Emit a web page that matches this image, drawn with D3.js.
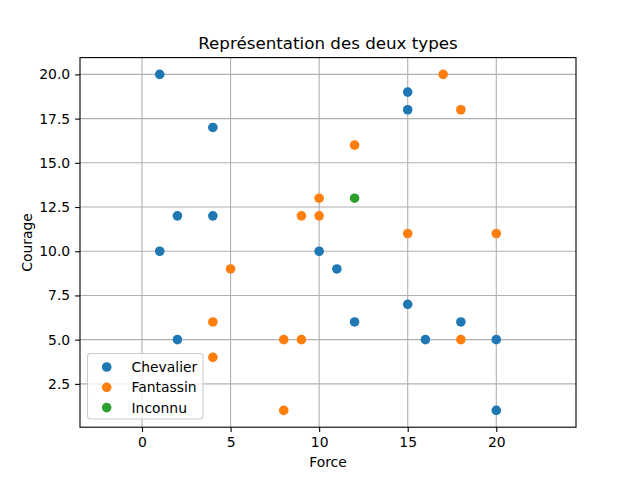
<!DOCTYPE html>
<html>
<head>
<meta charset="utf-8">
<script src="https://cdn.jsdelivr.net/npm/d3@7"></script>
<style>
  body { margin: 0; background: #fff; }
  text { font-family: "DejaVu Sans", sans-serif; fill: #000; }
</style>
</head>
<body>
<svg id="chart"></svg>
<script>
// data
const chevalierForce   = [1, 15, 15, 4, 2, 4, 1, 10, 11, 15, 12, 18, 2, 16, 20, 20];
const chevalierCourage = [20, 19, 18, 17, 12, 12, 10, 10, 9, 7, 6, 6, 5, 5, 5, 1];
const fantassinForce   = [17, 18, 12, 10, 9, 10, 15, 20, 5, 4, 8, 9, 18, 4, 8];
const fantassinCourage = [20, 18, 16, 13, 12, 12, 11, 11, 9, 6, 5, 5, 5, 4, 1];
const inconnuForce   = [12];
const inconnuCourage = [13];
const seriesNames = ["Chevalier", "Fantassin", "Inconnu"];
const xTicks = [0, 5, 10, 15, 20];
const yTicks = [2.5, 5, 7.5, 10, 12.5, 15, 17.5, 20];

const width = 640, height = 480;
const margin = {left: 80, right: 64, top: 57.6, bottom: 52.8};
const colors = ["#1f77b4", "#ff7f0e", "#2ca02c"];
const dot = 4.8;

const series = [
  {name: seriesNames[0], xs: chevalierForce, ys: chevalierCourage},
  {name: seriesNames[1], xs: fantassinForce, ys: fantassinCourage},
  {name: seriesNames[2], xs: inconnuForce, ys: inconnuCourage}
];

const svg = d3.select("#chart").attr("width", width).attr("height", height);

const x = d3.scaleLinear().domain([-3.5, 24.5]).range([margin.left, width - margin.right]);
const y = d3.scaleLinear().domain([0.05, 20.95]).range([height - margin.bottom, margin.top]);

// grid
const grid = svg.append("g").attr("stroke", "#b0b0b0").attr("stroke-width", 1.1);
grid.selectAll(".gx").data(xTicks).enter().append("line")
  .attr("x1", d => x(d)).attr("x2", d => x(d))
  .attr("y1", margin.top).attr("y2", height - margin.bottom);
grid.selectAll(".gy").data(yTicks).enter().append("line")
  .attr("y1", d => y(d)).attr("y2", d => y(d))
  .attr("x1", margin.left).attr("x2", width - margin.right);

// points
series.forEach((s, i) => {
  svg.append("g").selectAll("circle")
    .data(s.xs.map((v, j) => [v, s.ys[j]]))
    .enter().append("circle")
    .attr("cx", d => x(d[0]))
    .attr("cy", d => y(d[1]))
    .attr("r", dot)
    .attr("fill", colors[i]);
});

// axes
const xAxis = svg.append("g")
  .attr("transform", `translate(0,${height - margin.bottom})`)
  .call(d3.axisBottom(x).tickValues(xTicks).tickFormat(d3.format("d")).tickSize(4.9).tickPadding(4.9));
const yAxis = svg.append("g")
  .attr("transform", `translate(${margin.left},0)`)
  .call(d3.axisLeft(y).tickValues(yTicks).tickFormat(d3.format(".1f")).tickSize(4.9).tickPadding(4.9));
[xAxis, yAxis].forEach(a => {
  a.select(".domain").remove();
  a.selectAll("text").style("font-size", "13.9px").attr("fill", "#000");
  a.selectAll("line").attr("stroke", "#000").attr("stroke-width", 1.1);
});

// frame
svg.append("rect")
  .attr("x", margin.left).attr("y", margin.top)
  .attr("width", width - margin.left - margin.right)
  .attr("height", height - margin.top - margin.bottom)
  .attr("fill", "none").attr("stroke", "#000").attr("stroke-width", 1.1);

// labels
svg.append("text")
  .attr("x", (margin.left + width - margin.right) / 2).attr("y", 49)
  .attr("text-anchor", "middle").style("font-size", "16.7px")
  .text("Représentation des deux types");
svg.append("text")
  .attr("x", (margin.left + width - margin.right) / 2).attr("y", 467)
  .attr("text-anchor", "middle").style("font-size", "13.9px")
  .text("Force");
svg.append("text")
  .attr("transform", `translate(32,${(margin.top + height - margin.bottom) / 2}) rotate(-90)`)
  .attr("text-anchor", "middle").style("font-size", "13.9px")
  .text("Courage");

// legend
const lg = svg.append("g").attr("transform", "translate(87.5,353.5)");
lg.append("rect")
  .attr("width", 115.5).attr("height", 65.5).attr("rx", 3)
  .attr("fill", "#fff").attr("fill-opacity", 0.8)
  .attr("stroke", "#cccccc").attr("stroke-width", 1.1);
series.forEach((s, i) => {
  const row = lg.append("g").attr("transform", `translate(0,${13.5 + i * 20.3})`);
  row.append("circle").attr("cx", 19.2).attr("cy", 0).attr("r", dot).attr("fill", colors[i]);
  row.append("text").attr("x", 44).attr("y", 0).attr("dy", "0.36em")
    .style("font-size", "13.9px").text(s.name);
});
</script>
</body>
</html>
